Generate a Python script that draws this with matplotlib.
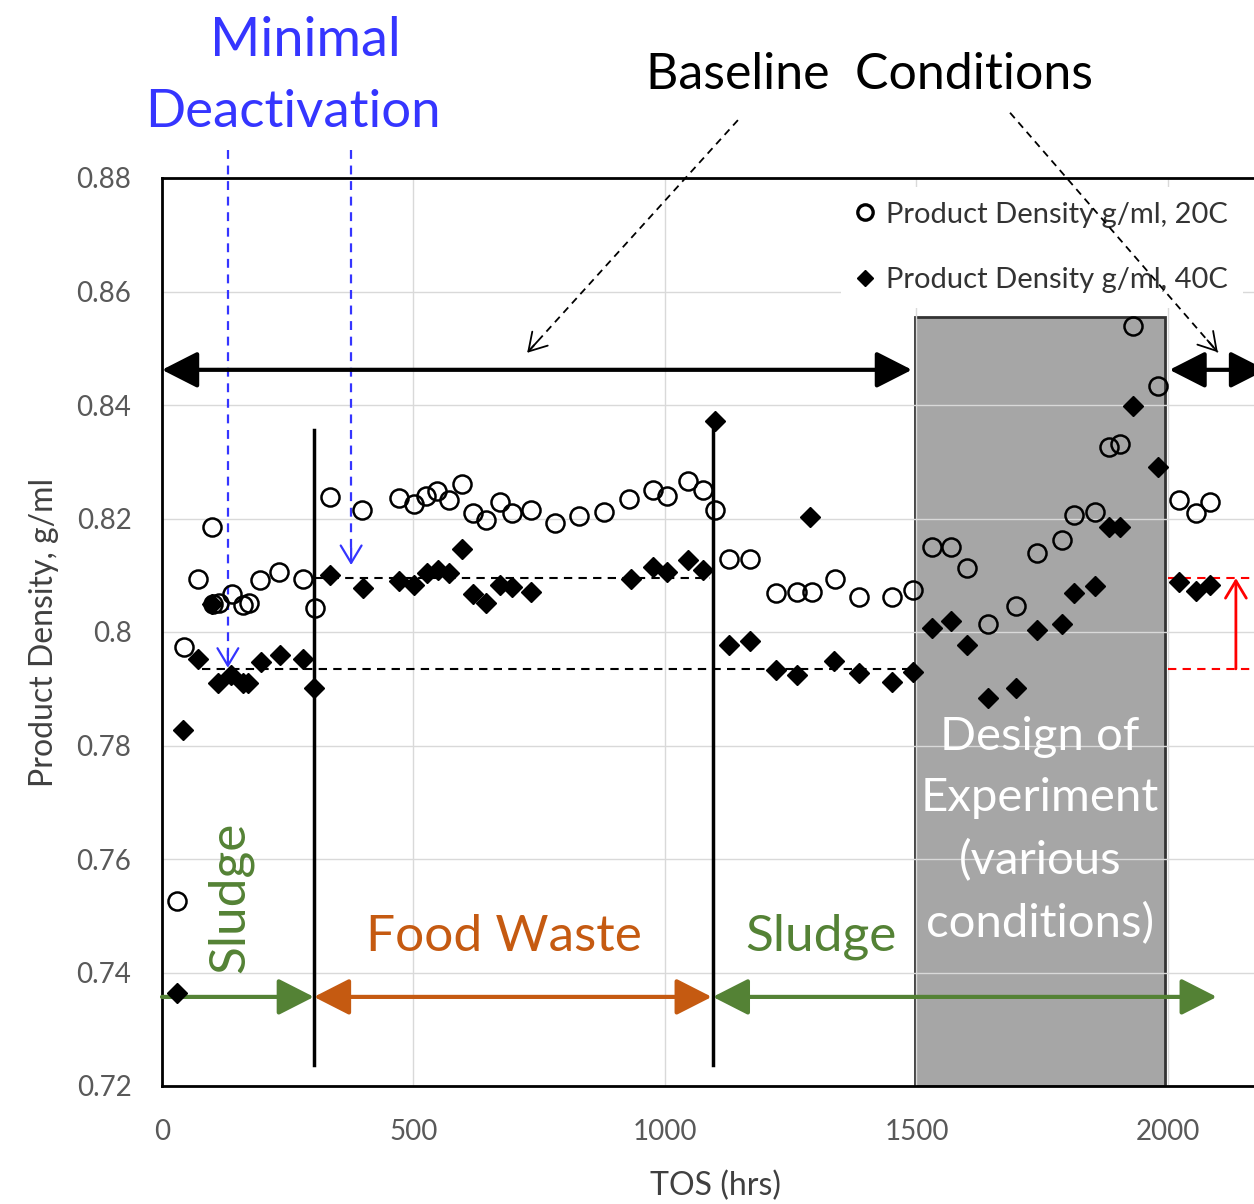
import matplotlib
matplotlib.use("Agg")
import matplotlib.pyplot as plt
from matplotlib.patches import Rectangle

plt.rcParams['font.family'] = ['Lato', 'DejaVu Sans']

# Product density at 20C (open circles), TOS in hrs
tos_20c = [30, 44, 72, 99, 101, 113, 139, 161, 173, 195, 233, 280, 304,
           334, 398, 471, 501, 525, 547, 571, 596, 618, 644, 672, 696, 734,
           781, 829, 879, 928, 976, 1004, 1046, 1076, 1099,
           1127, 1169, 1221, 1262, 1292, 1338, 1386, 1451, 1493,
           1531, 1569, 1600, 1642, 1698, 1740, 1789, 1813, 1855, 1883, 1905,
           1930, 1980, 2022, 2056, 2084]
density_20c = [0.7526, 0.7974, 0.8093, 0.8185, 0.8049, 0.8051, 0.8067, 0.8048,
               0.8051, 0.8092, 0.8106, 0.8093, 0.8042,
               0.8238, 0.8215, 0.8236, 0.8226, 0.8240, 0.8248, 0.8233, 0.8261,
               0.8210, 0.8197, 0.8229, 0.8210, 0.8215, 0.8192, 0.8204, 0.8211,
               0.8234, 0.8250, 0.8240, 0.8266, 0.8250, 0.8215,
               0.8129, 0.8129, 0.8069, 0.8070, 0.8070, 0.8093, 0.8062, 0.8062,
               0.8074, 0.8150, 0.8150, 0.8113, 0.8014, 0.8046, 0.8139, 0.8162,
               0.8206, 0.8211, 0.8326, 0.8331, 0.8539, 0.8433,
               0.8233, 0.8210, 0.8229]

# Product density at 40C (filled diamonds)
tos_40c = [30, 42, 72, 99, 111, 137, 161, 171, 197, 235, 280, 302,
           334, 400, 471, 501, 527, 549, 571, 596, 618, 644, 672, 696, 734,
           932, 976, 1004, 1046, 1076, 1099,
           1127, 1169, 1221, 1262, 1288, 1336, 1386, 1451, 1493,
           1531, 1569, 1600, 1642, 1698, 1740, 1789, 1813, 1855, 1883, 1905,
           1930, 1980, 2022, 2056, 2084]
density_40c = [0.7364, 0.7827, 0.7952, 0.8049, 0.7910, 0.7924, 0.7910, 0.7910,
               0.7947, 0.7959, 0.7952, 0.7901,
               0.8100, 0.8078, 0.8090, 0.8083, 0.8104, 0.8109, 0.8104, 0.8146,
               0.8067, 0.8051, 0.8083, 0.8079, 0.8070,
               0.8093, 0.8115, 0.8106, 0.8127, 0.8109, 0.8372,
               0.7977, 0.7984, 0.7933, 0.7924, 0.8203, 0.7949, 0.7928, 0.7912,
               0.7930, 0.8007, 0.8019, 0.7977, 0.7884, 0.7901, 0.8004, 0.8014,
               0.8069, 0.8081, 0.8185, 0.8185, 0.8398, 0.8291,
               0.8088, 0.8072, 0.8083]

y_ticks = [0.72, 0.74, 0.76, 0.78, 0.80, 0.82, 0.84, 0.86, 0.88]
y_tick_labels = ['0.72', '0.74', '0.76', '0.78', '0.8', '0.82', '0.84', '0.86', '0.88']
x_ticks = [0, 500, 1000, 1500, 2000]

# feed change times and reference levels
feed_switch = [302, 1095]
doe_window = (1497, 1994)
baseline_low, baseline_high = 0.7935, 0.8095

BLUE = '#3535ff'
GREEN = '#548235'
ORANGE = '#c55a11'

fig = plt.figure(figsize=(12.54, 12.04), dpi=100)
ax = fig.add_axes([162 / 1254, 118 / 1204, 1092 / 1254, 908 / 1204])
ax.set_xlim(0, 2171)
ax.set_ylim(0.72, 0.88)

ax.set_yticks(y_ticks)
ax.set_yticklabels(y_tick_labels)
ax.set_xticks(x_ticks)
ax.tick_params(length=0, labelsize=20, colors='#595959')
ax.tick_params(axis='y', pad=22)
ax.tick_params(axis='x', pad=24)
ax.grid(True, color='#d9d9d9', lw=1)
ax.set_axisbelow(True)
for side in ['left', 'bottom', 'top']:
    ax.spines[side].set_color('black')
    ax.spines[side].set_linewidth(2)
ax.spines['right'].set_visible(False)

# Design of experiment window
ax.add_patch(Rectangle((doe_window[0], 0.72), doe_window[1] - doe_window[0], 0.1355,
                       facecolor='#a6a6a6', edgecolor='#333333', lw=2, zorder=0.3))
ax.text(sum(doe_window) / 2, 0.7650, 'Design of\nExperiment\n(various\nconditions)',
        color='white', fontsize=34, ha='center', va='center', linespacing=1.57, zorder=3)

# data series
ax.plot(tos_20c, density_20c, 'o', ms=13, mfc='none', mec='black', mew=1.8,
        label='Product Density g/ml, 20C', zorder=4)
ax.plot(tos_40c, density_40c, 'D', ms=10, color='black',
        label='Product Density g/ml, 40C', zorder=4)

# baseline reference levels
dash = (0, (4, 3))
ax.plot([80, 1491], [baseline_low] * 2, color='black', lw=1.5, ls=dash, zorder=3)
ax.plot([307, 1089], [baseline_high] * 2, color='black', lw=1.5, ls=dash, zorder=3)
ax.plot([2000, 2175], [baseline_low] * 2, color='red', lw=1.5, ls=dash, zorder=3, clip_on=False)
ax.plot([2000, 2175], [baseline_high] * 2, color='red', lw=1.5, ls=dash, zorder=3, clip_on=False)
ax.annotate('', xy=(2135, baseline_high), xytext=(2135, baseline_low),
            arrowprops=dict(arrowstyle='->,head_length=0.5,head_width=0.3', color='red',
                            lw=2, mutation_scale=25, shrinkA=0, shrinkB=0))

# feed switch lines
for xs in feed_switch:
    ax.plot([xs, xs], [0.7237, 0.8356], color='black', lw=2.5, zorder=3)


def arrow(x0, y0, x1, y1, style, color, lw, scale):
    ax.annotate('', xy=(x1, y1), xytext=(x0, y0), annotation_clip=False,
                arrowprops=dict(arrowstyle=style, color=color, lw=lw,
                                mutation_scale=scale, shrinkA=0, shrinkB=0))


head = 'head_length=0.55,head_width=0.28'
# baseline arrows
arrow(0, 0.8462, 1491, 0.8462, '<|-|>,' + head, 'black', 3, 40)
arrow(2003, 0.8462, 2195, 0.8462, '<|-|>,' + head, 'black', 3, 40)
# feed arrows
arrow(0, 0.7357, 302, 0.7357, '-|>,' + head, GREEN, 3, 40)
arrow(302, 0.7357, 1093, 0.7357, '<|-|>,' + head, ORANGE, 3, 40)
arrow(1095, 0.7357, 2097, 0.7357, '<|-|>,' + head, GREEN, 3, 40)

ax.text(135, 0.7533, 'Sludge', color=GREEN, fontsize=37, rotation=90,
        ha='center', va='center', zorder=3)
ax.text(680, 0.7463, 'Food Waste', color=ORANGE, fontsize=37, ha='center', va='center')
ax.text(1310, 0.7463, 'Sludge', color=GREEN, fontsize=37, ha='center', va='center')

# minimal deactivation pointers
for xb, ytip in [(131, 0.7937), (376, 0.8118)]:
    ax.plot([xb, xb], [0.8849, ytip + 0.002], color=BLUE, lw=1.6, ls=dash, clip_on=False)
    arrow(xb, ytip + 0.003, xb, ytip, '->,head_length=0.5,head_width=0.3', BLUE, 1.6, 25)
ax.text(285, 0.9043, 'Minimal', color=BLUE, fontsize=39, ha='center', va='center')
ax.text(260, 0.8915, 'Deactivation', color=BLUE, fontsize=38, ha='center', va='center')

# baseline conditions pointers
ax.text(1406, 0.8981, 'Baseline  Conditions', color='black', fontsize=36,
        ha='center', va='center')
for (x0, y0), (x1, y1) in [((1145, 0.8902), (726, 0.8492)), ((1686, 0.8915), (2099, 0.8493))]:
    ax.plot([x0, x1], [y0, y1], color='black', lw=1.3, ls=dash, clip_on=False, zorder=5)
    arrow(x0 + (x1 - x0) * 0.95, y0 + (y1 - y0) * 0.95, x1, y1,
          '->,head_length=0.5,head_width=0.3', 'black', 1.3, 25)

leg = ax.legend(loc='upper left', bbox_to_anchor=(0.622, 0.99), fontsize=21,
                frameon=True, facecolor='white', edgecolor='none', framealpha=1,
                handlelength=0.6, handletextpad=0.45, labelspacing=1.35,
                borderpad=0.5, markerscale=0.85, borderaxespad=0)
leg.legend_handles[0].set_markeredgewidth(2.4)
for t in leg.get_texts():
    t.set_color('#333333')
leg.set_zorder(2)

ax.set_xlabel('TOS (hrs)', fontsize=23, color='#404040')
ax.set_ylabel('Product Density, g/ml', fontsize=23, color='#404040')
ax.xaxis.set_label_coords(0.507, -0.093)
ax.yaxis.set_label_coords(-0.094, 0.5)

fig.savefig('out.png', dpi=100)
